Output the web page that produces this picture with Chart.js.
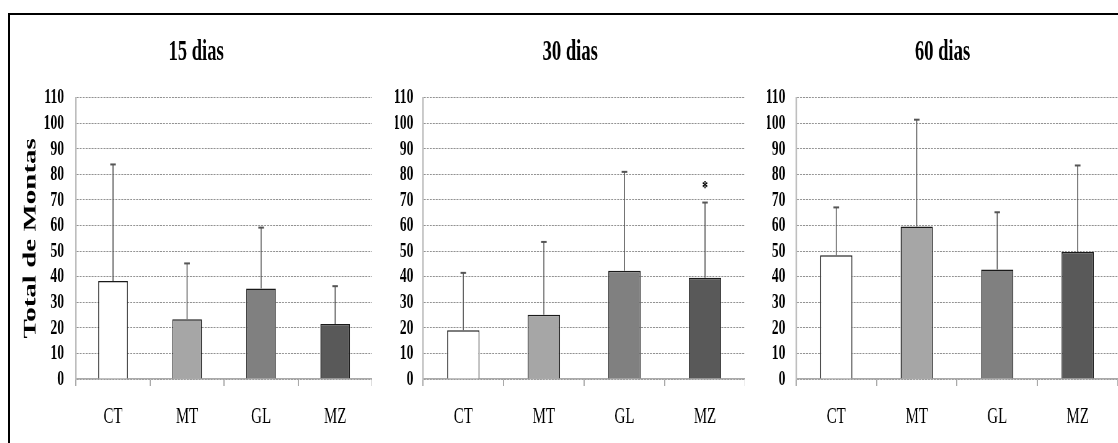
<!DOCTYPE html>
<html>
<head>
<meta charset="utf-8">
<script src="https://cdn.jsdelivr.net/npm/chart.js@4/dist/chart.umd.min.js"></script>
<style>
  html, body { margin: 0; padding: 0; background: #fff; }
  body { width: 1118px; height: 443px; position: relative; overflow: hidden; }
  .frame { position: absolute; left: 8px; top: 13px; right: -10px; bottom: -10px;
           border-top: 2px solid #000; border-left: 2px solid #000; }
  .panel { position: absolute; top: 20px; height: 423px; }
  .inner { height: 423px; transform-origin: 0 0; }
  canvas { display: block; }
</style>
</head>
<body>
<div class="frame"></div>
<div class="panel" id="p0"><div class="inner"><canvas id="c0"></canvas></div></div>
<div class="panel" id="p1"><div class="inner"><canvas id="c1"></canvas></div></div>
<div class="panel" id="p2"><div class="inner"><canvas id="c2"></canvas></div></div>
<script>
const categories = ['CT', 'MT', 'GL', 'MZ'];
const panelTitles = ['15 dias', '30 dias', '60 dias'];
const yTitle = 'Total de Montas';

const means15 = [38.3, 23.4, 35.4, 21.5];
const sd15 = [45.6, 21.8, 23.8, 14.8];
const means30 = [19.1, 25.1, 42.3, 39.6];
const sd30 = [22.4, 28.5, 38.7, 29.4];
const means60 = [48.4, 59.6, 42.8, 49.7];
const sd60 = [18.7, 41.8, 22.4, 33.8];
const marks15 = ['', '', '', ''];
const marks30 = ['', '', '', '*'];
const marks60 = ['', '', '', ''];

const yMax = 110;
const yStep = 10;

const barColors = ['#ffffff', '#a6a6a6', '#808080', '#595959'];

// horizontal squeeze of the whole figure (the original is narrow-looking)
const SQ = 0.62;
const H = 423;
const serif = "'Liberation Serif', 'Times New Roman', serif";

// final page positions: canvas left, canvas right, y axis x, label gap
const panels = [
  { left: 20, right: 372, axisX: 76, gap: 12, means: means15, sd: sd15, marks: marks15 },
  { left: 395, right: 745, axisX: 423, gap: 9.5, means: means30, sd: sd30, marks: marks30 },
  { left: 767, right: 1118, axisX: 796, gap: 10.5, means: means60, sd: sd60, marks: marks60 }
];

const errorBars = {
  id: 'errorBars',
  afterDatasetsDraw(chart, args, opts) {
    const ctx = chart.ctx;
    const y = chart.scales.y;
    const meta = chart.getDatasetMeta(0);
    ctx.save();
    ctx.strokeStyle = '#555';
    meta.data.forEach((bar, i) => {
      const base = y.getPixelForValue(opts.means[i]);
      const top = y.getPixelForValue(opts.means[i] + opts.sd[i]);
      ctx.lineWidth = 1.6;
      ctx.beginPath();
      ctx.moveTo(bar.x, base);
      ctx.lineTo(bar.x, top);
      ctx.stroke();
      ctx.lineWidth = 2;
      ctx.beginPath();
      ctx.moveTo(bar.x - 4.5, top);
      ctx.lineTo(bar.x + 4.5, top);
      ctx.stroke();
      if (opts.marks[i]) {
        ctx.fillStyle = '#000';
        ctx.font = 'bold 19px ' + serif;
        ctx.textAlign = 'center';
        ctx.textBaseline = 'middle';
        ctx.fillText(opts.marks[i], bar.x, top - 13);
      }
    });
    ctx.restore();
  }
};

panels.forEach((p, k) => {
  const w = p.right - p.left;
  const panel = document.getElementById('p' + k);
  panel.style.left = p.left + 'px';
  panel.style.width = w + 'px';
  const inner = panel.firstElementChild;
  inner.style.width = (w / SQ) + 'px';
  inner.style.transform = 'scaleX(' + SQ + ')';
  const canvas = document.getElementById('c' + k);
  canvas.width = Math.round(w / SQ);
  canvas.height = H;
  const axisWidth = (p.axisX - p.left) / SQ;

  new Chart(canvas, {
    type: 'bar',
    data: {
      labels: categories,
      datasets: [{
        data: p.means,
        backgroundColor: barColors,
        borderColor: '#1a1a1a',
        borderWidth: 1.5,
        borderSkipped: 'bottom',
        categoryPercentage: 1,
        barPercentage: 0.4
      }]
    },
    plugins: [errorBars],
    options: {
      responsive: false,
      animation: false,
      layout: { padding: 0 },
      plugins: {
        legend: { display: false },
        tooltip: { enabled: false },
        title: {
          display: true,
          text: panelTitles[k],
          color: '#000',
          font: { family: serif, size: 30, weight: 'bold' },
          padding: { top: 14.5, bottom: 27.2 }
        },
        errorBars: { means: p.means, sd: p.sd, marks: p.marks }
      },
      scales: {
        x: {
          afterFit: (scale) => { scale.height = 64; },
          grid: { drawOnChartArea: false, drawTicks: true, tickLength: 7, color: '#aaa', lineWidth: 2 },
          border: { display: true, color: '#aaa', width: 1.5 },
          ticks: { color: '#000', padding: 16, font: { family: serif, size: 24 } }
        },
        y: {
          min: 0,
          max: yMax,
          afterFit: (scale) => { scale.width = axisWidth; },
          grid: { color: '#929292', lineWidth: 1, drawTicks: false },
          border: { display: true, color: '#bdbdbd', width: 2.4, dash: [3.2, 1.6] },
          ticks: {
            stepSize: yStep,
            autoSkip: false,
            color: '#000',
            padding: p.gap / SQ,
            font: { family: serif, size: 22, weight: 'bold' }
          },
          title: {
            display: k === 0,
            text: yTitle,
            color: '#000',
            font: { family: serif, size: 29, weight: 'bold' },
            padding: { top: 0, bottom: 0 }
          }
        }
      }
    }
  });
});
</script>
</body>
</html>
